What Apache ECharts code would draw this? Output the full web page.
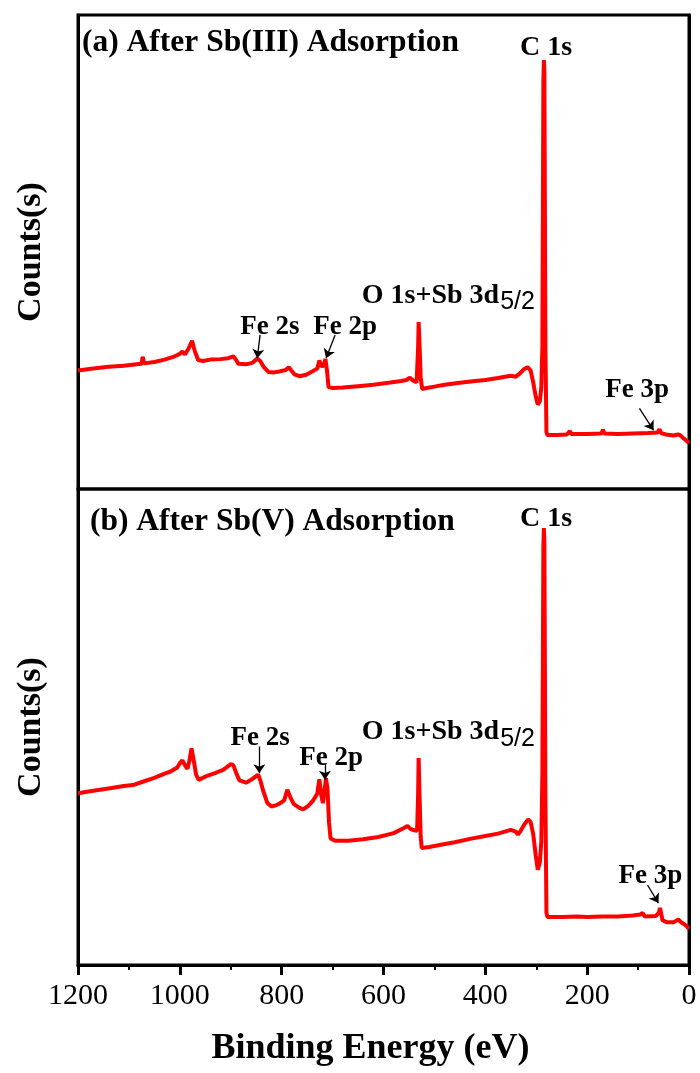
<!DOCTYPE html>
<html>
<head>
<meta charset="utf-8">
<script src="https://cdn.jsdelivr.net/npm/echarts@6/dist/echarts.min.js"></script>
<style>
html,body{margin:0;padding:0;background:#fff;}
#chart{width:700px;height:1073px;}
</style>
</head>
<body>
<div id="chart"></div>
<script>
// ---- Data (binding energy in eV, counts in arbitrary units 0-100 of panel height) ----
const energyA = [1200,1170,1140,1110,1085,1075,1073,1070,1050,1030,1010,1000,995,990,983,979,976,973,970,964,955,940,920,905,895,890,885,870,858,848,842,835,826,815,805,792,786,781,775,765,752,740,730,726,721,717,714,711,708,700,680,650,620,590,565,555,548,542,535,532,531,529,527,524,515,500,480,450,420,400,375,350,340,332,325,317,311,306,301,297,293,290,288,286,285,284,282,280,278,260,240,234,231,200,172,169,166,140,110,80,62,58,55,45,30,22,18,12,6,0];
const countsA = [25.0,25.4,25.8,26.0,26.3,26.4,27.9,26.5,26.8,27.3,28.0,28.5,29.0,28.4,29.6,30.5,31.3,30.0,28.9,27.2,27.0,27.3,27.4,27.6,28.0,27.3,26.4,26.3,26.6,27.5,27.0,25.7,24.7,24.6,24.8,25.1,25.7,25.0,24.2,23.8,24.1,24.8,25.4,27.1,25.8,26.2,27.4,25.0,21.5,21.3,21.4,21.7,22.0,22.4,22.8,23.0,23.5,22.9,22.5,30.0,35.2,30.0,23.5,21.1,21.3,21.6,22.0,22.4,22.8,23.0,23.4,23.9,23.7,24.4,25.2,25.7,25.0,22.5,19.5,17.8,18.5,21.5,30.0,86.0,90.5,88.0,30.0,12.0,11.4,11.4,11.5,12.2,11.6,11.6,11.7,12.5,11.7,11.6,11.7,11.8,11.9,12.6,11.8,11.5,11.3,11.5,11.4,10.8,10.3,9.7];

const energyB = [1200,1170,1140,1110,1092,1070,1050,1030,1019,1005,1000,995,990,985,981,977,975,972,968,963,955,945,931,915,905,900,895,888,883,870,860,850,846,842,836,828,820,810,803,795,789,786,782,776,765,758,748,738,730,726,722,719,716,713,710,707,704,695,670,640,610,580,560,553,547,540,534,532,531,529,527,525,510,490,460,430,400,375,350,340,336,330,323,316,311,306,301,297,293,290,288,286,285,284,282,280,278,250,220,200,170,140,110,96,91,87,65,59,57,55,52,44,30,25,21,16,10,5,0];
const countsB = [36.1,36.6,37.1,37.6,37.8,38.6,39.3,40.2,40.6,41.5,42.4,43.0,42.0,41.2,43.0,45.5,45.2,42.5,40.0,38.9,39.3,39.8,40.3,41.0,41.8,42.2,42.0,40.0,38.8,38.3,38.9,39.7,40.0,38.8,36.5,34.0,33.3,33.6,34.0,34.6,36.8,37.2,35.0,33.8,33.0,32.7,33.4,34.6,36.0,39.0,35.5,34.0,36.5,39.2,37.0,30.0,26.6,26.1,26.1,26.4,26.9,27.7,28.8,29.2,28.6,28.3,28.2,36.0,43.5,35.0,27.0,24.6,24.8,25.2,25.8,26.5,27.1,27.6,28.4,28.0,27.4,28.3,29.6,30.6,30.0,27.5,23.0,20.0,21.5,26.0,40.0,88.0,91.8,89.0,35.0,11.0,10.1,10.1,10.2,10.1,10.2,10.2,10.4,10.6,10.9,10.2,10.3,11.0,12.0,11.0,9.4,9.0,9.0,9.3,9.6,9.0,8.6,8.2,7.6];

const xTicks = [1200,1000,800,600,400,200,0];
const panelTitles = ['(a) After Sb(III) Adsorption', '(b) After Sb(V) Adsorption'];
const xAxisTitle = 'Binding Energy (eV)';
const yAxisTitle = 'Counts(s)';

// peak labels: [text, energy, counts]
const peakLabelsA = [['C 1s',280.6,93.0],['Fe 2s',823,34.2],['Fe 2p',675.5,34.2],['Fe 3p',102,20.9]];
const peakLabelsB = [['C 1s',280.6,93.8],['Fe 2s',842.4,47.6],['Fe 2p',703,43.4],['Fe 3p',76,18.6]];
// O 1s label anchor (left edge): [energy, counts]
const oLabelA = [642.6,40.6];
const oLabelB = [642.6,48.7];
// arrows: [e1,c1,e2,c2]
const arrowsA = [[842.4,32.5,848,27.6],[695,32.5,712.8,27.6],[97.3,17.0,69.7,12.4]];
const arrowsB = [[843.8,45.9,843.8,40.3],[715,42.2,715,38.9],[81.5,16.8,60,13.0]];

const SERIF = 'Liberation Serif';
const SANS = 'Liberation Sans';

function pairs(xs, ys){ return xs.map((x,i)=>[x, ys[i]]); }

function markPoints(labels, oLab){
  const d = labels.map(l => ({
    coord:[l[1], l[2]], symbol:'circle', symbolSize:0,
    label:{show:true, position:'inside', formatter:l[0], color:'#000', fontFamily:SERIF, fontWeight:'bold', fontSize: l[0]==='C 1s' ? 28 : 27}
  }));
  d.push({
    coord:oLab, symbol:'circle', symbolSize:0,
    label:{show:true, position:'right', distance:0, formatter:'{m|O 1s+Sb 3d}{s|5/2}',
      rich:{
        m:{fontFamily:SERIF, fontWeight:'bold', fontSize:28, color:'#000', verticalAlign:'top', lineHeight:30},
        s:{fontFamily:SANS, fontSize:25, color:'#000', verticalAlign:'top', lineHeight:30, padding:[8,0,0,1]}
      }}
  });
  return {silent:true, animation:false, data:d};
}
function markLines(arrows){
  return {
    silent:true, animation:false, symbol:['none','arrow'], symbolSize:9,
    label:{show:false}, lineStyle:{color:'#000', width:1.3, type:'solid'},
    emphasis:{disabled:true},
    data: arrows.map(a => [{coord:[a[0],a[1]]},{coord:[a[2],a[3]]}])
  };
}

const chart = echarts.init(document.getElementById('chart'), null, {renderer:'canvas'});
const hiddenAxis = {axisLine:{show:false}, axisTick:{show:false}, axisLabel:{show:false}, splitLine:{show:false}};
const frameLine = {show:true, onZero:false, lineStyle:{color:'#000', width:3}};
const option = {
  backgroundColor:'#fff',
  animation:false,
  textStyle:{fontFamily:SERIF},
  title:[
    {text:panelTitles[0], left:82, top:27, padding:0, textStyle:{fontFamily:SERIF, fontWeight:'bold', fontSize:31.5, color:'#000'}},
    {text:panelTitles[1], left:90, top:506, padding:0, textStyle:{fontFamily:SERIF, fontWeight:'bold', fontSize:31.5, color:'#000'}}
  ],
  grid:[
    {left:78, top:15, width:611, height:474, show:true, borderColor:'#000', borderWidth:3, backgroundColor:'transparent'},
    {left:78, top:489, width:611, height:476, show:true, borderColor:'#000', borderWidth:3, backgroundColor:'transparent'}
  ],
  xAxis:[
    Object.assign({gridIndex:0, type:'value', min:0, max:1200, inverse:true}, hiddenAxis),
    {gridIndex:1, type:'value', min:0, max:1200, interval:200, inverse:true,
     axisLine:frameLine,
     axisTick:{show:true, length:10, lineStyle:{color:'#000', width:3}},
     minorTick:{show:true, splitNumber:2, length:5, lineStyle:{color:'#000', width:2}},
     axisLabel:{show:true, margin:16, fontFamily:SERIF, fontSize:30, color:'#000',
       formatter: v => xTicks.includes(v) ? String(v) : ''},
     splitLine:{show:false},
     name:xAxisTitle, nameLocation:'middle', nameGap:66,
     nameTextStyle:{fontFamily:SERIF, fontWeight:'bold', fontSize:36, color:'#000', padding:[0,26,0,0]}}
  ],
  yAxis:[
    {gridIndex:0, type:'value', min:0, max:100, position:'left', axisLine:frameLine, axisTick:{show:false}, axisLabel:{show:false}, splitLine:{show:false},
     name:yAxisTitle, nameLocation:'middle', nameGap:30, nameRotate:90,
     nameTextStyle:{fontFamily:SERIF, fontWeight:'bold', fontSize:34, color:'#000'}},
    {gridIndex:1, type:'value', min:0, max:100, position:'left', axisLine:frameLine, axisTick:{show:false}, axisLabel:{show:false}, splitLine:{show:false},
     name:yAxisTitle, nameLocation:'middle', nameGap:30, nameRotate:90,
     nameTextStyle:{fontFamily:SERIF, fontWeight:'bold', fontSize:34, color:'#000'}},
    {gridIndex:0, type:'value', min:0, max:100, position:'right', axisLine:frameLine, axisTick:{show:false}, axisLabel:{show:false}, splitLine:{show:false}},
    {gridIndex:1, type:'value', min:0, max:100, position:'right', axisLine:frameLine, axisTick:{show:false}, axisLabel:{show:false}, splitLine:{show:false}}
  ],
  series:[
    {type:'line', xAxisIndex:0, yAxisIndex:0, data:pairs(energyA, countsA), showSymbol:false, symbol:'none',
     lineStyle:{color:'#ff0000', width:4}, silent:true,
     markPoint:markPoints(peakLabelsA, oLabelA), markLine:markLines(arrowsA)},
    {type:'line', xAxisIndex:1, yAxisIndex:1, data:pairs(energyB, countsB), showSymbol:false, symbol:'none',
     lineStyle:{color:'#ff0000', width:4}, silent:true,
     markPoint:markPoints(peakLabelsB, oLabelB), markLine:markLines(arrowsB)}
  ]
};
chart.setOption(option);
</script>
</body>
</html>
